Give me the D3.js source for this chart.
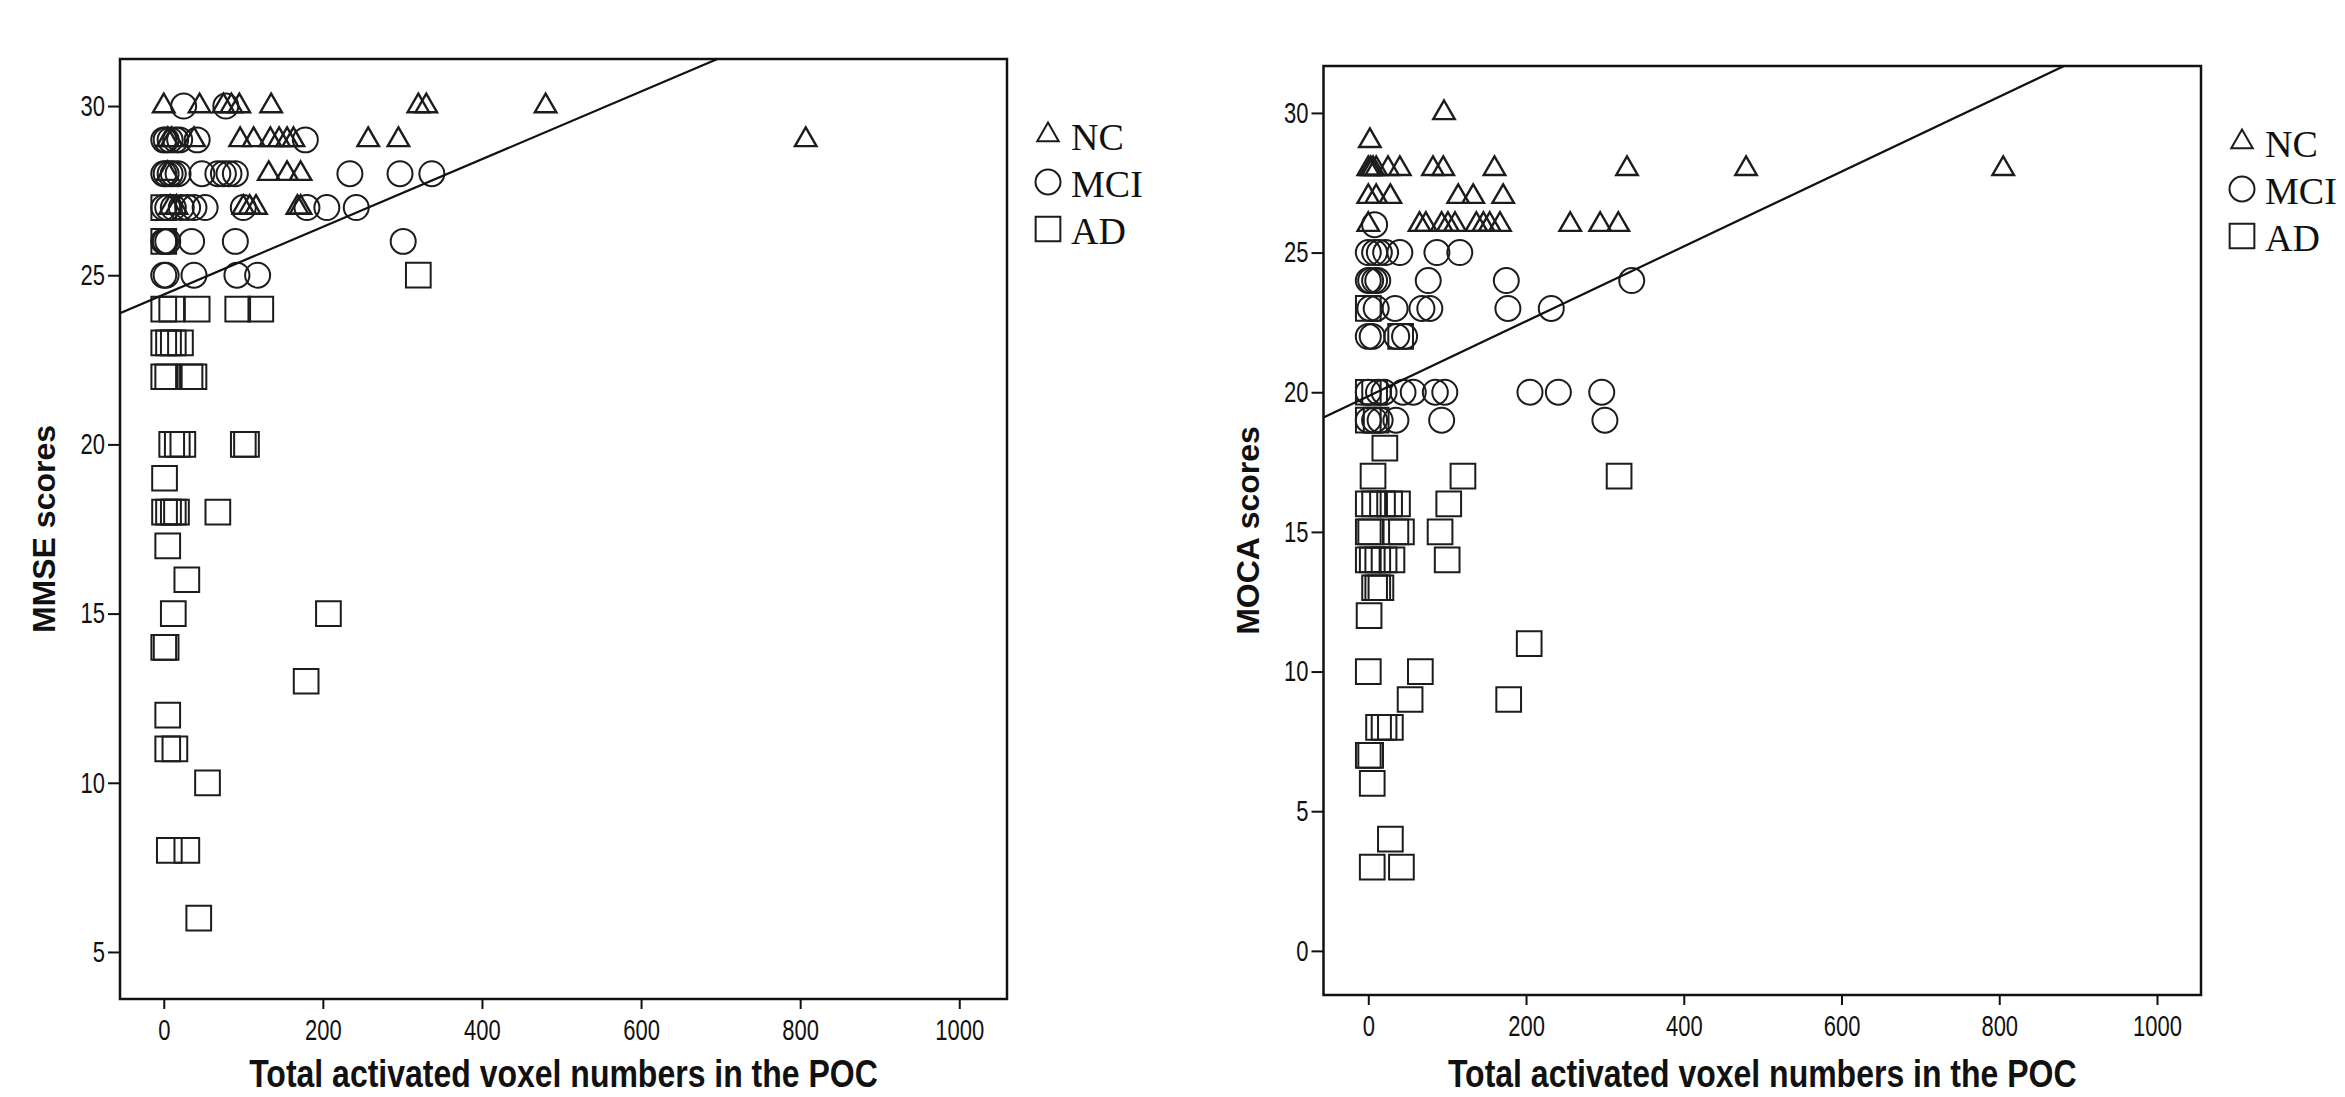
<!DOCTYPE html>
<html>
<head>
<meta charset="utf-8">
<script src="https://cdn.jsdelivr.net/npm/d3@7"></script>
<style>
  body { margin: 0; background: #fff; }
  svg { display: block; background: #fff; }
</style>
</head>
<body>
<svg id="chart" width="2345" height="1097"></svg>
<script>
// 数据: [POC 激活体素数, 量表得分]
const mmseNC = [
  [0,30],[45,30],[75,30],[85,30],[95,30],[135,30],[320,30],[330,30],[480,30],
  [5,29],[10,29],[38,29],[96,29],[113,29],[134,29],[145,29],[155,29],[163,29],[257,29],[295,29],[807,29],
  [5,28],[132,28],[155,28],[172,28],
  [8,27],[16,27],[100,27],[108,27],[116,27],[168,27],[172,27]
];
const mmseMCI = [
  [25,30],[78,30],
  [0,29],[3,29],[8,29],[15,29],[20,29],[42,29],[178,29],
  [0,28],[3,28],[8,28],[12,28],[18,28],[48,28],[68,28],[75,28],[82,28],[90,28],[234,28],[297,28],[337,28],
  [0,27],[5,27],[12,27],[22,27],[30,27],[38,27],[52,27],[100,27],[180,27],[205,27],[242,27],
  [0,26],[2,26],[5,26],[35,26],[90,26],[301,26],
  [0,25],[3,25],[38,25],[92,25],[118,25]
];
const mmseAD = [
  [0,27],[0,26],[320,25],
  [0,24],[10,24],[42,24],[93,24],[122,24],
  [0,23],[6,23],[12,23],[21,23],
  [0,22],[5,22],[33,22],[38,22],
  [10,20],[17,20],[24,20],[100,20],[104,20],
  [1,19],
  [1,18],[6,18],[12,18],[16,18],[68,18],
  [5,17],[29,16],[12,15],[207,15],[0,14],[3,14],[179,13],[5,12],[5,11],[14,11],
  [55,10],[7,8],[29,8],[44,6]
];

const mocaNC = [
  [96,30],[2,29],
  [0,28],[3,28],[6,28],[10,28],[25,28],[40,28],[82,28],[95,28],[160,28],[328,28],[479,28],[805,28],
  [0,27],[10,27],[28,27],[114,27],[133,27],[171,27],
  [0,26],[65,26],[73,26],[93,26],[101,26],[110,26],[137,26],[146,26],[154,26],[167,26],[256,26],[294,26],[317,26]
];
const mocaMCI = [
  [8,26],
  [0,25],[8,25],[14,25],[22,25],[40,25],[87,25],[116,25],
  [0,24],[3,24],[8,24],[12,24],[76,24],[175,24],[334,24],
  [2,23],[10,23],[34,23],[68,23],[78,23],[177,23],[232,23],
  [0,22],[5,22],[36,22],[46,22],
  [0,20],[13,20],[20,20],[44,20],[57,20],[85,20],[97,20],[205,20],[241,20],[296,20],
  [0,19],[8,19],[15,19],[35,19],[93,19],[300,19]
];
const mocaAD = [
  [0,23],[41,22],[0,20],[8,20],[0,19],[10,19],[21,18],
  [6,17],[120,17],[318,17],
  [0,16],[8,16],[18,16],[27,16],[37,16],[102,16],
  [0,15],[3,15],[35,15],[42,15],[91,15],
  [0,14],[5,14],[12,14],[20,14],[30,14],[100,14],
  [8,13],[12,13],[16,13],[1,12],[204,11],[0,10],[66,10],[53,9],[178,9],
  [13,8],[20,8],[28,8],[0,7],[3,7],[5,6],[28,4],[5,3],[42,3]
];

const groups = ["NC", "MCI", "AD"];
const xTicks = [0, 200, 400, 600, 800, 1000];
const mmseTicks = [5, 10, 15, 20, 25, 30];
const mocaTicks = [0, 5, 10, 15, 20, 25, 30];
// 拟合直线 [截距, 斜率]
const mmseFit = [24.43, 0.0100];
const mocaFit = [19.86, 0.0134];

const xTitle = "Total activated voxel numbers in the POC";

const svg = d3.select("#chart");
const sans = "'Liberation Sans', Arial, sans-serif";
const serif = "'Liberation Serif', 'Times New Roman', serif";

const shapes = { NC: d3.symbolTriangle, MCI: d3.symbolCircle, AD: d3.symbolSquare };
const sizes = { NC: 200, MCI: 490, AD: 610 };
const widths = { NC: 2.4, MCI: 2, AD: 2 };

function drawPanel(cfg) {
  const x = d3.scaleLinear().domain(cfg.xDomain).range([cfg.left, cfg.right]);
  const y = d3.scaleLinear().domain(cfg.yDomain).range([cfg.bottom, cfg.top]);
  const g = svg.append("g");

  // 裁剪区域
  g.append("clipPath").attr("id", cfg.id + "-clip")
    .append("rect")
      .attr("x", cfg.left).attr("y", cfg.top)
      .attr("width", cfg.right - cfg.left).attr("height", cfg.bottom - cfg.top);

  // 散点
  const series = [cfg.nc, cfg.mci, cfg.ad];
  groups.forEach((name, i) => {
    g.append("g")
        .attr("fill", "none")
        .attr("stroke", "#1c1c1c")
        .attr("stroke-width", widths[name])
      .selectAll("path")
      .data(series[i])
      .join("path")
        .attr("transform", d => `translate(${x(d[0])},${y(d[1])})`)
        .attr("d", d3.symbol(shapes[name], sizes[name]));
  });

  // 拟合直线
  const fitLine = d3.line().x(d => x(d)).y(d => y(cfg.fit[0] + cfg.fit[1] * d));
  g.append("path")
      .attr("clip-path", `url(#${cfg.id}-clip)`)
      .attr("fill", "none")
      .attr("stroke", "#111")
      .attr("stroke-width", 2.2)
      .attr("d", fitLine(cfg.xDomain));

  // y 轴
  g.append("g")
      .attr("transform", `translate(${cfg.left},0)`)
      .call(d3.axisLeft(y).tickValues(cfg.yTicks).tickSize(12).tickPadding(3))
      .call(a => a.select(".domain").remove())
      .call(a => a.selectAll("line").attr("stroke", "#111").attr("stroke-width", 2))
      .call(a => a.selectAll("text")
          .attr("fill", "#111")
          .attr("font-family", sans)
          .attr("font-size", 22)
          .attr("transform", "scale(1,1.33)"));

  // x 轴
  g.append("g")
      .attr("transform", `translate(0,${cfg.bottom})`)
      .call(d3.axisBottom(x).tickValues(xTicks).tickFormat(d3.format("d")).tickSize(10))
      .call(a => a.select(".domain").remove())
      .call(a => a.selectAll("line").attr("stroke", "#111").attr("stroke-width", 2))
      .call(a => a.selectAll("text")
          .attr("fill", "#111")
          .attr("font-family", sans)
          .attr("font-size", 22)
          .attr("y", 23)
          .attr("dy", "0.36em")
          .attr("transform", "scale(1,1.33)"));

  // 边框
  g.append("rect")
      .attr("x", cfg.left).attr("y", cfg.top)
      .attr("width", cfg.right - cfg.left).attr("height", cfg.bottom - cfg.top)
      .attr("fill", "none")
      .attr("stroke", "#111")
      .attr("stroke-width", 2.5);

  // 轴标题
  g.append("text")
      .attr("transform", `translate(${cfg.left - 65},${(cfg.top + cfg.bottom) / 2}) rotate(-90)`)
      .attr("text-anchor", "middle")
      .attr("font-family", sans)
      .attr("font-weight", "bold")
      .attr("font-size", 32)
      .attr("fill", "#111")
      .text(cfg.yTitle);

  g.append("text")
      .attr("transform", `translate(${(cfg.left + cfg.right) / 2},1087) scale(1,1.2)`)
      .attr("text-anchor", "middle")
      .attr("font-family", sans)
      .attr("font-weight", "bold")
      .attr("font-size", 32)
      .attr("fill", "#111")
      .text(xTitle);

  // 图例
  const legend = g.append("g")
      .attr("transform", `translate(${cfg.right + 41},${cfg.top + 76})`);
  groups.forEach((name, i) => {
    legend.append("path")
        .attr("transform", `translate(0,${i * 47})`)
        .attr("d", d3.symbol(shapes[name], sizes[name]))
        .attr("fill", "none")
        .attr("stroke", "#1c1c1c")
        .attr("stroke-width", 2);
    legend.append("text")
        .attr("x", 23)
        .attr("y", i * 47 + 15)
        .attr("font-family", serif)
        .attr("font-size", 38)
        .attr("fill", "#111")
        .text(name);
  });
}

drawPanel({
  id: "mmse",
  left: 120, right: 1007, top: 59, bottom: 999,
  xDomain: [-55, 1060], yDomain: [3.61, 31.39],
  yTicks: mmseTicks, yTitle: "MMSE scores",
  nc: mmseNC, mci: mmseMCI, ad: mmseAD, fit: mmseFit
});

drawPanel({
  id: "moca",
  left: 1323.5, right: 2201, top: 66, bottom: 995,
  xDomain: [-56.8, 1055.8], yDomain: [-1.58, 31.68],
  yTicks: mocaTicks, yTitle: "MOCA scores",
  nc: mocaNC, mci: mocaMCI, ad: mocaAD, fit: mocaFit
});
</script>
</body>
</html>
